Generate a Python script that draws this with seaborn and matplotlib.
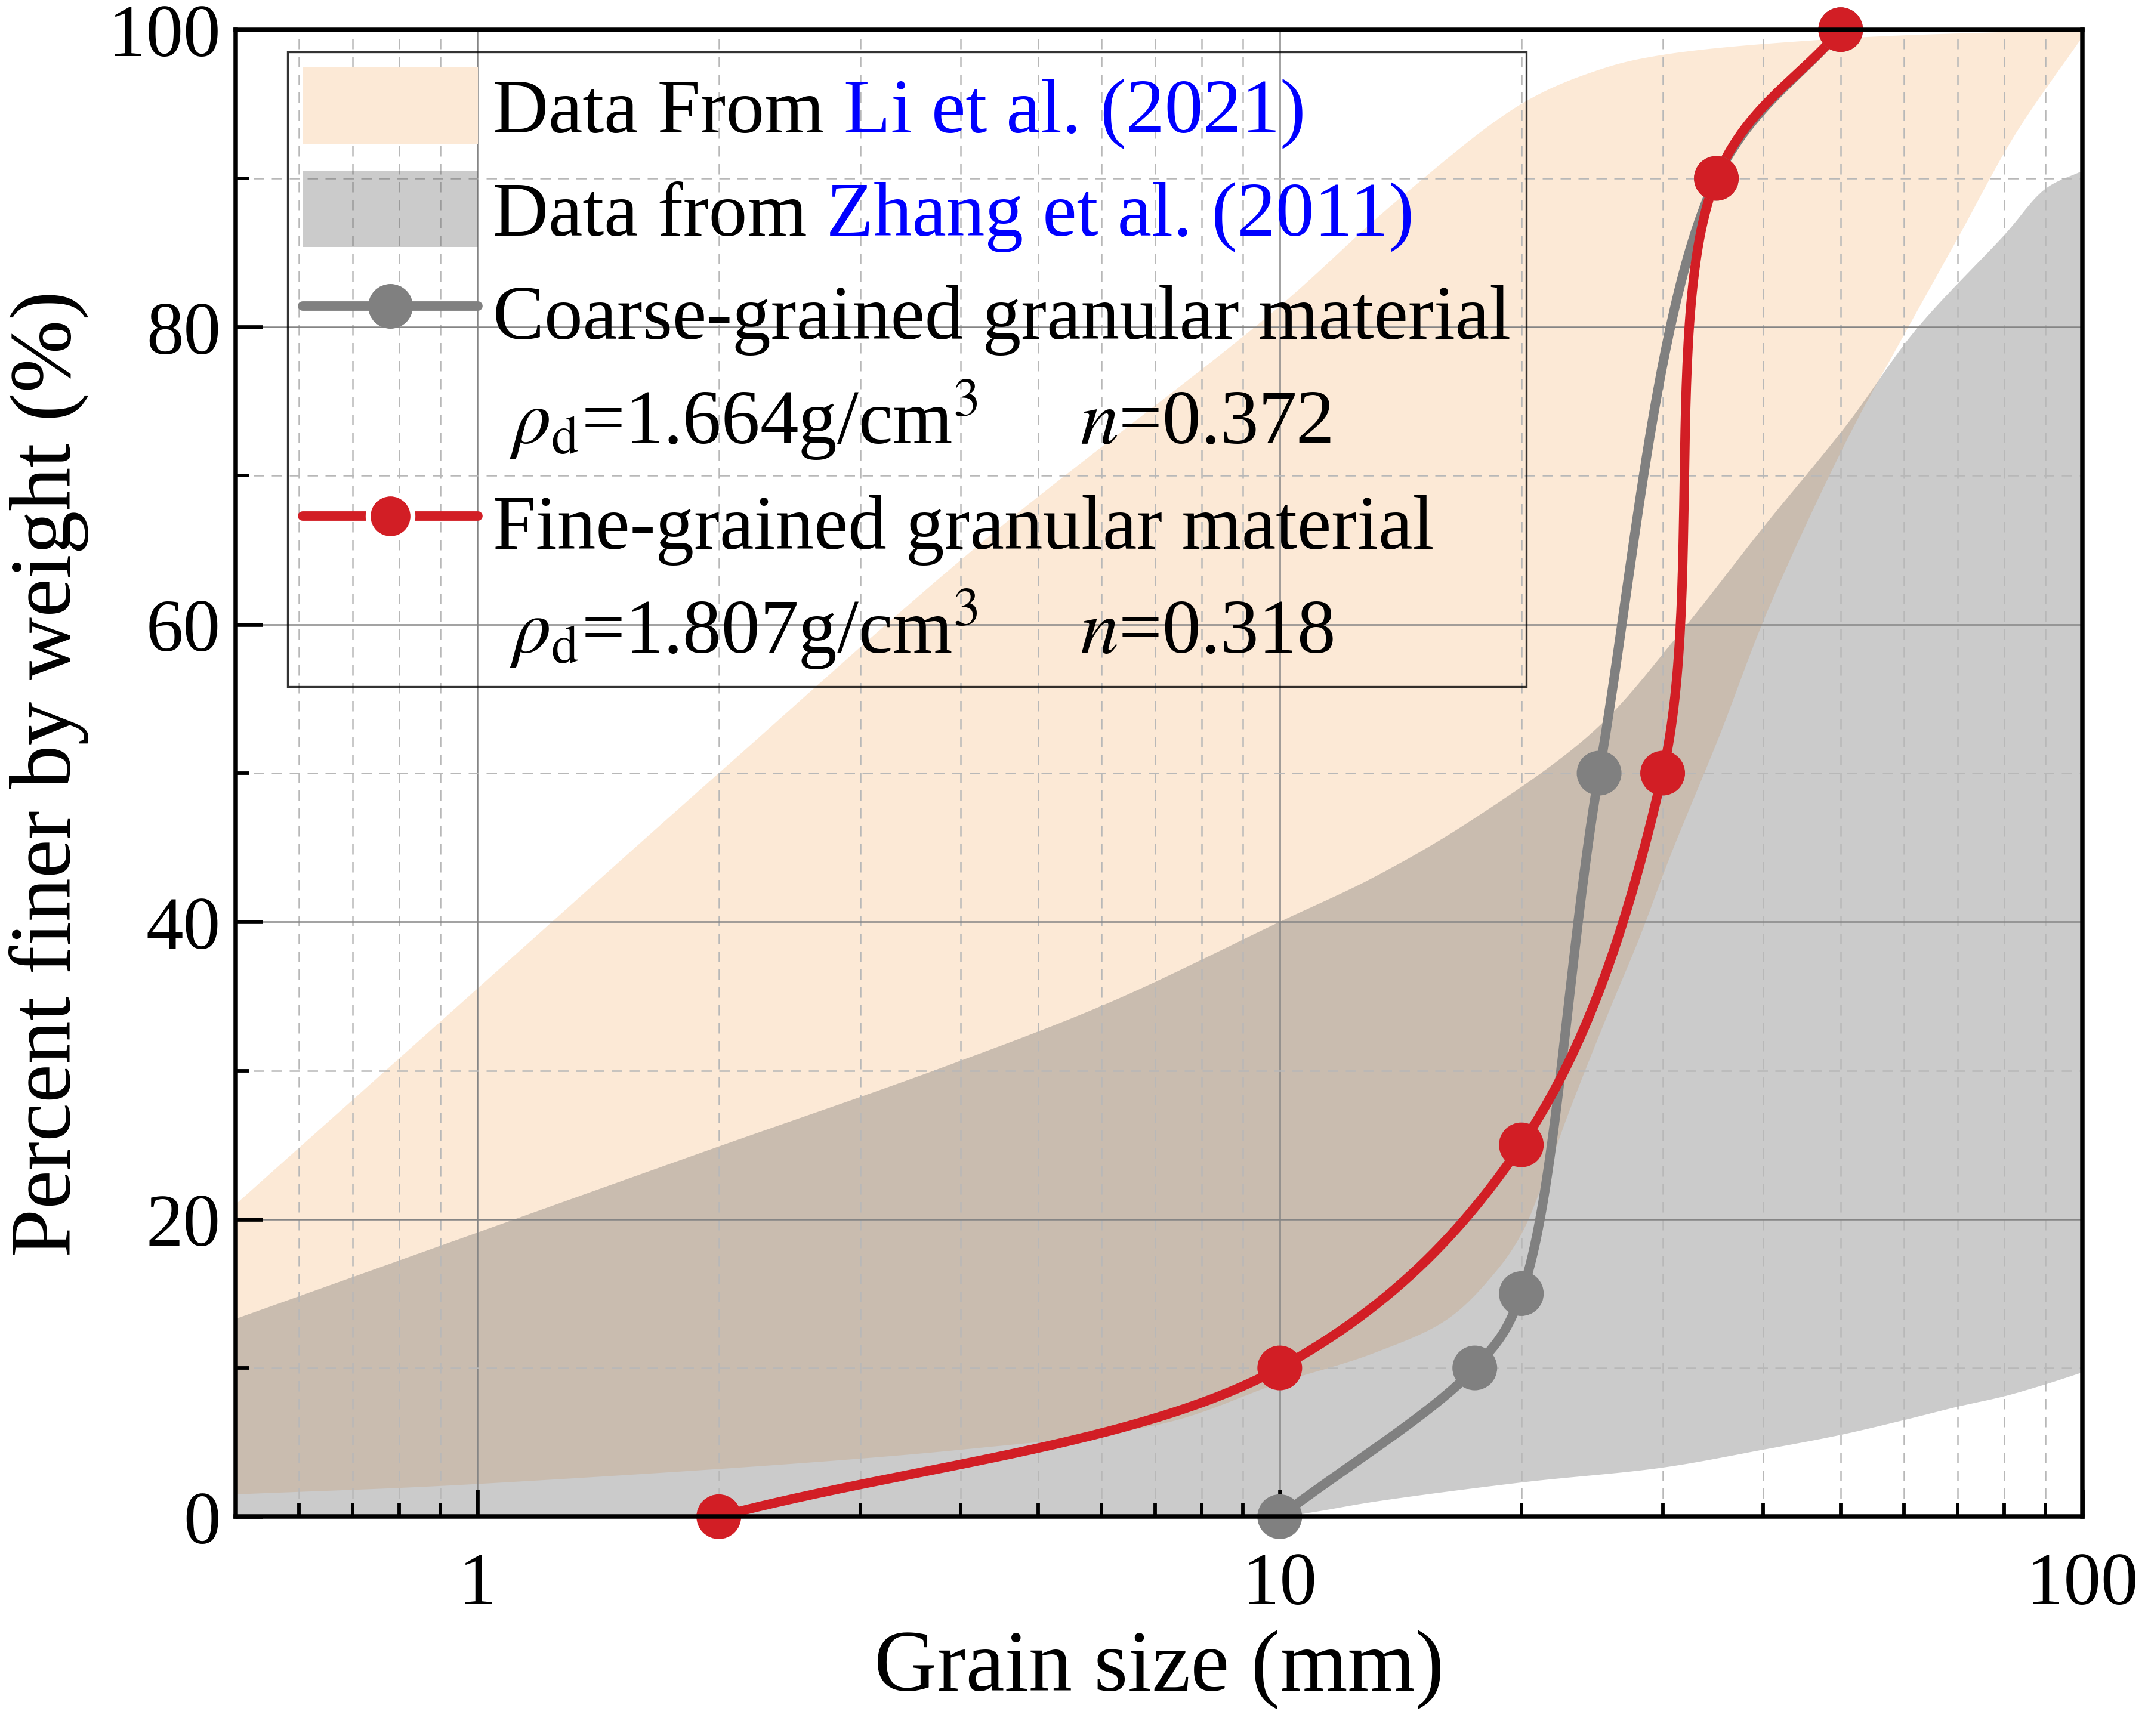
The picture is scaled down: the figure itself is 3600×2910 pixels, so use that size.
import numpy as np
import matplotlib
matplotlib.use("Agg")
import matplotlib.pyplot as plt
import seaborn as sns
from matplotlib.lines import Line2D
from matplotlib.patches import Patch
from matplotlib.ticker import FixedLocator, LogLocator, MultipleLocator, NullFormatter, FuncFormatter

sns.set_theme(style="ticks")
plt.rcParams['font.family'] = ['Liberation Serif', 'DejaVu Serif']
plt.rcParams['mathtext.fontset'] = 'stix'
plt.rcParams['text.color'] = 'black'
plt.rcParams['axes.labelcolor'] = 'black'
plt.rcParams['xtick.color'] = 'black'
plt.rcParams['ytick.color'] = 'black'

# grading curves: grain size (mm) / percent finer (%)
coarse_size = [10, 17.5, 20, 25, 35, 50]
coarse_pct = [0, 10, 15, 50, 90, 100]
fine_size = [2, 10, 20, 30, 35, 50]
fine_pct = [0, 10, 25, 50, 90, 100]

# envelope, Li et al. (2021)
li_upper_size = [0.5, 1, 2, 4.25, 9.8, 14, 20, 25, 30, 50, 100]
li_upper_pct = [21, 35.5, 50, 65.5, 81, 88.5, 95, 97.3, 98.3, 99.4, 100]
li_lower_size = [0.5, 1, 4, 7.2, 10, 13.1, 16.2, 18.6, 20, 21.2, 23, 25.5, 28.1, 30.7,
                 35.3, 40.6, 51, 60, 70, 82.6, 100]
li_lower_pct = [1.5, 2.2, 4.5, 6.3, 9, 11, 13.3, 16.5, 19, 22.2, 27.4, 33.5, 39, 44.5,
                52.5, 61, 72.5, 79.5, 86, 93, 99.5]

# envelope, Zhang et al. (2011)
zhang_upper_size = [0.5, 1, 1.93, 3.84, 6.15, 10, 13.1, 17.3, 24.7, 31.5, 40, 51, 62, 80, 90, 100]
zhang_upper_pct = [13.3, 19.1, 24.6, 30.3, 34.6, 40, 43, 46.8, 52.9, 59.4, 66.5, 73.5, 79.8, 86.2, 89.3, 90.5]
zhang_lower_size = [0.5, 10, 11, 13.1, 20, 30, 40, 50, 60, 70, 80, 90, 100]
zhang_lower_pct = [0, 0, 0.3, 1.0, 2.3, 3.3, 4.5, 5.5, 6.5, 7.4, 8.1, 8.9, 9.7]

PEACH = '#FCE9D6'
RED = '#D21E25'
GREY = '#808080'


def smooth(size, pct, n=40, alpha=0.5):
    # centripetal catmull-rom in screen-ish units (log x)
    P = np.column_stack([np.log10(size) * 586.0, np.asarray(pct, float) * 10.85])
    P = np.vstack([2 * P[0] - P[1], P, 2 * P[-1] - P[-2]])
    out = []
    for i in range(1, len(P) - 2):
        p0, p1, p2, p3 = P[i - 1], P[i], P[i + 1], P[i + 2]
        t0 = 0.0
        t1 = t0 + np.linalg.norm(p1 - p0) ** alpha
        t2 = t1 + np.linalg.norm(p2 - p1) ** alpha
        t3 = t2 + np.linalg.norm(p3 - p2) ** alpha
        t = np.linspace(t1, t2, n)[:, None]
        a1 = (t1 - t) / (t1 - t0) * p0 + (t - t0) / (t1 - t0) * p1
        a2 = (t2 - t) / (t2 - t1) * p1 + (t - t1) / (t2 - t1) * p2
        a3 = (t3 - t) / (t3 - t2) * p2 + (t - t2) / (t3 - t2) * p3
        b1 = (t2 - t) / (t2 - t0) * a1 + (t - t0) / (t2 - t0) * a2
        b2 = (t3 - t) / (t3 - t1) * a2 + (t - t1) / (t3 - t1) * a3
        c = (t2 - t) / (t2 - t1) * b1 + (t - t1) / (t2 - t1) * b2
        out.append(c if i == len(P) - 3 else c[:-1])
    c = np.vstack(out)
    return 10 ** (c[:, 0] / 586.0), np.clip(c[:, 1] / 10.85, 0, 100)


def band(ax, us, up, ls, lp, **kw):
    xu, yu = smooth(us, up)
    xl, yl = smooth(ls, lp)
    ax.fill(np.r_[xu, xl[::-1]], np.r_[yu, yl[::-1]], lw=0, **kw)


fig = plt.figure(figsize=(12, 9.7033), dpi=300)
ax = fig.add_axes([0.1097, 0.1263, 0.8597, 0.8563])
ax.set_xscale('log')
ax.set_axisbelow('line')

band(ax, li_upper_size, li_upper_pct, li_lower_size, li_lower_pct, color=PEACH, zorder=0.6)
band(ax, zhang_upper_size, zhang_upper_pct, zhang_lower_size, zhang_lower_pct,
     color='#616161', alpha=0.33, zorder=0.7)

for size, pct, col in [(coarse_size, coarse_pct, GREY), (fine_size, fine_pct, RED)]:
    xs, ys = smooth(size, pct, n=60)
    sns.lineplot(x=xs, y=ys, sort=False, estimator=None, color=col, lw=3.8, ax=ax, zorder=3)
    sns.scatterplot(x=size, y=pct, color=col, s=18 ** 2, edgecolor='none', ax=ax, zorder=3.5,
                    clip_on=False)

ax.set_xlim(0.5, 100)
ax.set_ylim(0, 100)
ax.xaxis.set_major_locator(FixedLocator([1, 10, 100]))
ax.xaxis.set_major_formatter(FuncFormatter(lambda v, p: f'{v:g}'))
ax.xaxis.set_minor_locator(LogLocator(base=10, subs=np.arange(2, 10)))
ax.xaxis.set_minor_formatter(NullFormatter())
ax.set_yticks(np.arange(0, 101, 20))
ax.yaxis.set_minor_locator(MultipleLocator(10))
ax.tick_params(which='both', direction='in', top=False, right=False, colors='black')
ax.tick_params(which='major', length=10.8, width=1.6, labelsize=30)
ax.tick_params(axis='y', which='major', pad=6)
ax.tick_params(axis='x', which='major', pad=14)
ax.tick_params(which='minor', length=5.4, width=1.4)
ax.grid(which='major', color='#858585', lw=0.6, ls='-')
ax.grid(which='minor', color='#b8b8b8', lw=0.6, ls=(0, (7, 5)))
for s in ax.spines.values():
    s.set_linewidth(1.8)
    s.set_color('black')
    s.set_zorder(5)

ax.set_xlabel('Grain size (mm)', fontsize=35, labelpad=4, color='black')
ax.set_ylabel('Percent finer by weight (%)', fontsize=35, labelpad=8, color='black')

handles = [
    Patch(facecolor=PEACH, edgecolor='none'),
    Patch(facecolor='#616161', alpha=0.33, edgecolor='none'),
    Line2D([], [], color=GREY, lw=3.8, marker='o', ms=18, mec='none'),
    Line2D([], [], color='none'),
    Line2D([], [], color=RED, lw=3.8, marker='o', ms=18, mec='white', mew=2),
    Line2D([], [], color='none'),
]
labels = [
    'Data From',
    'Data from',
    'Coarse-grained granular material',
    r' $\rho_\mathrm{d}$=1.664g/cm$^3$     $n$=0.372',
    'Fine-grained granular material',
    r' $\rho_\mathrm{d}$=1.807g/cm$^3$     $n$=0.318',
]
leg = ax.legend(handles, labels, loc='upper left', bbox_to_anchor=(0.028, 0.985),
                borderaxespad=0, fancybox=False, fontsize=31, handlelength=2.27,
                handleheight=1.15, handletextpad=0.2, labelspacing=0.29, borderpad=0.2,
                labelcolor='black')
leg.get_frame().set_facecolor('none')
leg.get_frame().set_edgecolor('black')
leg.get_frame().set_linewidth(0.8)
leg.set_zorder(6)

texts = leg.get_texts()
for t, ref in [(texts[0], 'Li et al. (2021)'), (texts[1], 'Zhang et al. (2011)')]:
    ax.annotate(ref, xy=(1, 0), xycoords=t, xytext=(7.75, 0), textcoords='offset points',
                ha='left', va='bottom', fontsize=31, color='#0000FF', zorder=7)

fig.savefig('out.png', dpi=300)
